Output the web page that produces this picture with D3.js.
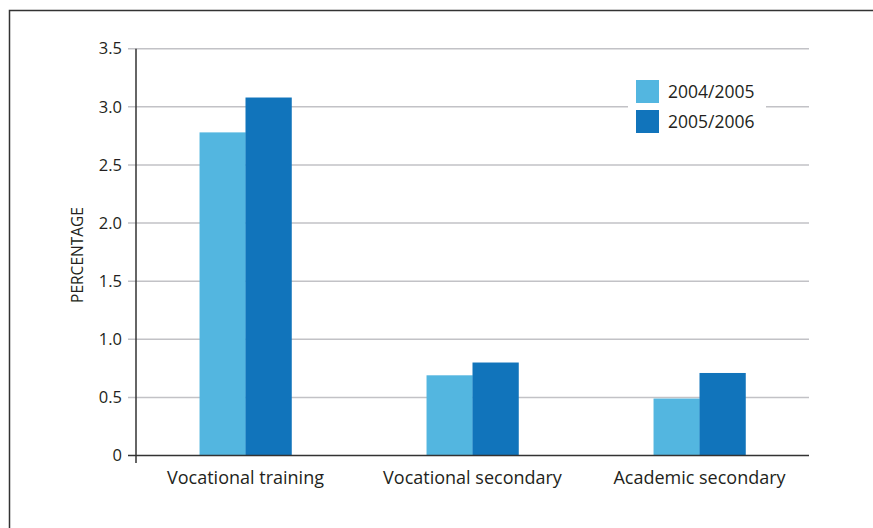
<!DOCTYPE html>
<html><head><meta charset="utf-8">
<script src="https://cdn.jsdelivr.net/npm/d3@7"></script>
<style>body{margin:0;background:#fff}svg{display:block}text{font-family:"Open Sans",sans-serif;fill:#231f20}</style>
</head><body>
<svg id="c" width="873" height="528"></svg>
<script>
const categories = ["Vocational training", "Vocational secondary", "Academic secondary"];
const seriesNames = ["2004/2005", "2005/2006"];
const values2004 = [2.78, 0.69, 0.49];
const values2005 = [3.08, 0.80, 0.71];
const yTicks = [0, 0.5, 1.0, 1.5, 2.0, 2.5, 3.0, 3.5];
const colors = ["#53b6e0", "#1174bb"];

const svg = d3.select("#c");
// frame
svg.append("path").attr("d","M9.5,528 V10.5 H873").attr("fill","none").attr("stroke","#333").attr("stroke-width",1.5);

const y = d3.scaleLinear().domain([0,3.5]).range([455.5,48.7]);
const x = d3.scaleBand().domain(categories).range([132,813]).paddingInner(0.595).paddingOuter(0.2975);
const xs = d3.scaleBand().domain(seriesNames).range([0,x.bandwidth()]);

// grid
svg.append("g").selectAll("line").data(yTicks.filter(d=>d>0)).join("line")
  .attr("x1",128).attr("x2",809).attr("y1",d=>y(d)).attr("y2",d=>y(d))
  .attr("stroke","#c2c2c6").attr("stroke-width",1.5);

// y tick labels
svg.append("g").selectAll("text").data(yTicks).join("text")
  .attr("x",122).attr("y",d=>y(d)).attr("dy","0.35em").attr("text-anchor","end")
  .attr("font-size",16.5).text(d=>d===0?"0":d3.format(".1f")(d));

// bars
const data = categories.map((c,i)=>({c, vals:[values2004[i], values2005[i]]}));
const g = svg.append("g").selectAll("g").data(data).join("g").attr("transform",d=>`translate(${x(d.c)},0)`);
g.selectAll("rect").data(d=>d.vals.map((v,j)=>({v, s:seriesNames[j], j}))).join("rect")
  .attr("x",d=>xs(d.s)).attr("width",xs.bandwidth()+0.3).attr("y",d=>y(d.v)).attr("height",d=>y(0)-y(d.v))
  .attr("fill",d=>colors[d.j]);

// baseline and y axis
svg.append("line").attr("x1",128).attr("x2",809).attr("y1",y(0)).attr("y2",y(0)).attr("stroke","#333").attr("stroke-width",1.5);
svg.append("line").attr("x1",136).attr("x2",136).attr("y1",y(3.5)).attr("y2",463).attr("stroke","#333").attr("stroke-width",1.5);

// category labels
svg.append("g").selectAll("text").data(categories).join("text")
  .attr("x",d=>x(d)+x.bandwidth()/2).attr("y",484).attr("text-anchor","middle")
  .attr("font-size",18).text(d=>d);

// y title
svg.append("text").attr("transform","translate(83,255) rotate(-90)").attr("text-anchor","middle")
  .attr("font-size",15.5).text("PERCENTAGE");

// legend
svg.append("rect").attr("x",628).attr("y",72).attr("width",138).attr("height",68).attr("fill","#fff");
const lg = svg.append("g").selectAll("g").data(seriesNames).join("g").attr("transform",(d,i)=>`translate(636,${80+i*30})`);
lg.append("rect").attr("width",23).attr("height",23).attr("fill",(d,i)=>colors[i]);
lg.append("text").attr("x",32).attr("y",11.5).attr("dy","0.35em").attr("font-size",17.5).text(d=>d);
</script>
</body></html>
